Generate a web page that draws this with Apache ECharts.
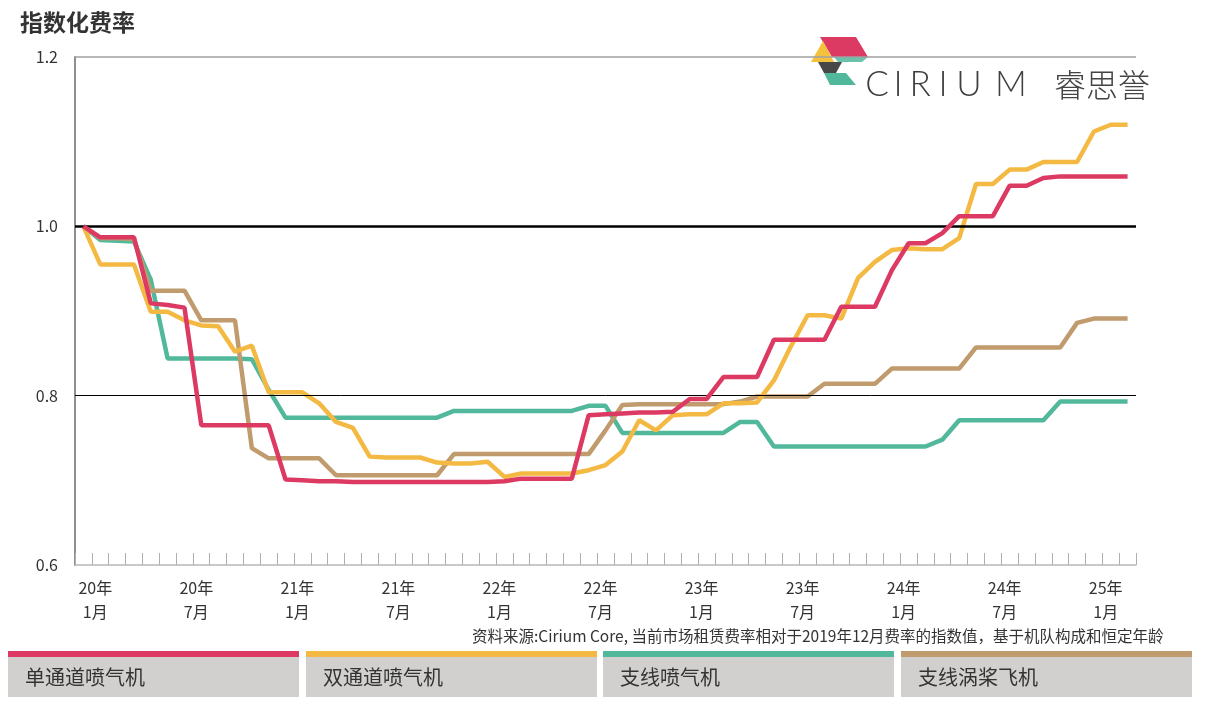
<!DOCTYPE html>
<html>
<head>
<meta charset="utf-8">
<script src="https://cdn.jsdelivr.net/npm/echarts@6/dist/echarts.min.js"></script>
<style>
  html, body { margin: 0; padding: 0; background: #fff; }
  #chart { width: 1230px; height: 712px; }
</style>
</head>
<body>
<div id="chart"></div>
<script>
// months Dec 2019 .. Feb 2025
var months = [];
for (var y = 2019, m = 12; y * 12 + m <= 2025 * 12 + 2; m++) {
  if (m > 12) { m = 1; y++; }
  months.push(y + '-' + (m < 10 ? '0' + m : m));
}

var yTicks = [0.6, 0.8, 1.0, 1.2];

// 单通道喷气机
var singleAisle = [1.000,0.987,0.987,0.987,0.909,0.907,0.904,0.765,0.765,0.765,0.765,0.765,0.701,0.700,0.699,0.699,0.698,0.698,0.698,0.698,0.698,0.698,0.698,0.698,0.698,0.699,0.702,0.702,0.702,0.702,0.777,0.778,0.779,0.780,0.780,0.781,0.796,0.796,0.822,0.822,0.822,0.866,0.866,0.866,0.866,0.905,0.905,0.905,0.948,0.980,0.980,0.992,1.012,1.012,1.012,1.048,1.048,1.057,1.059,1.059,1.059,1.059,1.059];
// 双通道喷气机
var wideBody = [1.000,0.955,0.955,0.955,0.899,0.899,0.889,0.883,0.882,0.852,0.859,0.804,0.804,0.804,0.791,0.769,0.762,0.728,0.727,0.727,0.727,0.721,0.720,0.720,0.722,0.704,0.708,0.708,0.708,0.708,0.712,0.718,0.734,0.771,0.759,0.777,0.778,0.778,0.791,0.791,0.792,0.818,0.858,0.895,0.895,0.891,0.939,0.958,0.972,0.974,0.973,0.973,0.986,1.050,1.050,1.067,1.067,1.076,1.076,1.076,1.112,1.120,1.120];
// 支线喷气机
var regionalJet = [1.000,0.984,0.983,0.982,0.937,0.844,0.844,0.844,0.844,0.844,0.843,0.807,0.774,0.774,0.774,0.774,0.774,0.774,0.774,0.774,0.774,0.774,0.782,0.782,0.782,0.782,0.782,0.782,0.782,0.782,0.788,0.788,0.756,0.756,0.756,0.756,0.756,0.756,0.756,0.769,0.769,0.740,0.740,0.740,0.740,0.740,0.740,0.740,0.740,0.740,0.740,0.748,0.771,0.771,0.771,0.771,0.771,0.771,0.793,0.793,0.793,0.793,0.793];
// 支线涡桨飞机
var turboprop = [1.000,0.986,0.986,0.985,0.924,0.924,0.924,0.889,0.889,0.889,0.738,0.726,0.726,0.726,0.726,0.706,0.706,0.706,0.706,0.706,0.706,0.706,0.731,0.731,0.731,0.731,0.731,0.731,0.731,0.731,0.731,0.759,0.789,0.790,0.790,0.790,0.790,0.790,0.790,0.793,0.799,0.799,0.799,0.799,0.814,0.814,0.814,0.814,0.832,0.832,0.832,0.832,0.832,0.857,0.857,0.857,0.857,0.857,0.857,0.886,0.891,0.891,0.891];

var seriesNames = ['单通道喷气机', '双通道喷气机', '支线喷气机', '支线涡桨飞机'];
var seriesColors = ['#dc3a62', '#f4b942', '#52b89c', '#c09b6d'];

var FONT = '"Noto Sans CJK SC", "Noto Sans", sans-serif';
var chart = echarts.init(document.getElementById('chart'));

// legend boxes at the bottom
var legendX = [8, 306, 603, 901];
var graphics = [];
seriesNames.forEach(function (name, i) {
  graphics.push({ type: 'rect', shape: { x: legendX[i], y: 657, width: 291, height: 40 }, style: { fill: '#d2d0cf' }, silent: true });
  graphics.push({ type: 'rect', shape: { x: legendX[i], y: 651, width: 291, height: 6 }, style: { fill: seriesColors[i] }, silent: true });
  graphics.push({ type: 'text', x: legendX[i] + 17, y: 677, style: { text: name, fill: '#333', fontSize: 20, fontFamily: FONT, verticalAlign: 'middle', textVerticalAlign: 'middle' }, silent: true });
});

// title
graphics.push({ type: 'text', x: 20, y: 22, style: { text: '指数化费率', fill: '#333', fontSize: 23, fontWeight: 'bold', fontFamily: FONT, verticalAlign: 'middle', textVerticalAlign: 'middle' } });

// source note
graphics.push({ type: 'text', x: 472, y: 636, style: { text: '资料来源:Cirium Core, 当前市场租赁费率相对于2019年12月费率的指数值，基于机队构成和恒定年龄', fill: '#333', fontSize: 15.5, fontFamily: FONT, verticalAlign: 'middle', textVerticalAlign: 'middle' } });

// logo mark
graphics.push({ type: 'polygon', shape: { points: [[820, 37], [856, 37], [868, 57], [832, 57]] }, style: { fill: '#dc3a62' } });
graphics.push({ type: 'polygon', shape: { points: [[811, 62], [823, 41], [834, 62]] }, style: { fill: '#f4c13c' } });
graphics.push({ type: 'polygon', shape: { points: [[818, 62], [842, 62], [836, 73], [824, 73]] }, style: { fill: '#474747' } });
graphics.push({ type: 'polygon', shape: { points: [[824, 73], [846, 73], [856, 85], [830, 85]] }, style: { fill: '#52b89c' } });
graphics.push({ type: 'polygon', shape: { points: [[834, 57], [868, 57], [862, 62], [838, 62]] }, style: { fill: '#52b89c', opacity: 0.85 } });

var logoLetters = ['C', 'I', 'R', 'I', 'U', 'M'];
var logoX = [877, 898, 920, 943, 969, 1011];
logoLetters.forEach(function (ch, i) {
  graphics.push({ type: 'text', x: logoX[i], y: 85, style: { text: ch, fill: '#3f3f3f', fontSize: 35, fontWeight: 300, fontFamily: 'Lato, "Open Sans", sans-serif', align: 'center', textAlign: 'center', verticalAlign: 'middle', textVerticalAlign: 'middle' } });
});
graphics.push({ type: 'text', x: 1102, y: 85, style: { text: '睿思誉', fill: '#444', fontSize: 32, fontWeight: 300, fontFamily: FONT, align: 'center', textAlign: 'center', verticalAlign: 'middle', textVerticalAlign: 'middle' } });

function lineSeries(name, data, color, z) {
  return {
    name: name,
    type: 'line',
    data: data,
    showSymbol: false,
    symbol: 'none',
    z: z,
    lineStyle: { color: color, width: 4.5 },
    itemStyle: { color: color },
    animation: false
  };
}

var series = [
  lineSeries(seriesNames[2], regionalJet, seriesColors[2], 2),
  lineSeries(seriesNames[3], turboprop, seriesColors[3], 3),
  lineSeries(seriesNames[1], wideBody, seriesColors[1], 4),
  lineSeries(seriesNames[0], singleAisle, seriesColors[0], 5)
];
series[0].markLine = {
  silent: true,
  symbol: 'none',
  label: { show: false },
  animation: false,
  data: [
    { yAxis: 1.2, lineStyle: { color: '#a0a0a0', width: 1.5, type: 'solid' } },
    { yAxis: 1.0, lineStyle: { color: '#000', width: 2.5, type: 'solid' } },
    { yAxis: 0.8, lineStyle: { color: '#000', width: 1, type: 'solid' } }
  ]
};

chart.setOption({
  backgroundColor: '#fff',
  animation: false,
  textStyle: { fontFamily: FONT },
  grid: { left: 75, right: 94, top: 57, bottom: 147, containLabel: false, outerBoundsMode: 'none' },
  xAxis: {
    type: 'category',
    data: months,
    boundaryGap: true,
    axisLine: { show: true, lineStyle: { color: '#b8b8b8', width: 1.5 } },
    axisTick: { show: true, inside: true, length: 12, interval: 0, lineStyle: { color: '#b0b0b0', width: 1 } },
    splitLine: { show: false },
    axisLabel: {
      interval: function (idx, val) {
        var mm = val.slice(5);
        return mm === '01' || mm === '07';
      },
      formatter: function (val) {
        return val.slice(2, 4) + '年\n' + parseInt(val.slice(5), 10) + '月';
      },
      color: '#333',
      fontSize: 16,
      lineHeight: 24,
      margin: 11,
      padding: [0, 10, 0, 0],
      fontFamily: FONT
    }
  },
  yAxis: {
    type: 'value',
    min: yTicks[0],
    max: yTicks[yTicks.length - 1],
    interval: 0.2,
    axisLine: { show: true, lineStyle: { color: '#8f8f8f', width: 2 } },
    axisTick: { show: false },
    splitLine: { show: false },
    axisLabel: {
      formatter: function (v) { return v.toFixed(1); },
      color: '#333',
      fontSize: 16,
      margin: 17,
      fontFamily: FONT
    }
  },
  series: series,
  graphic: graphics
});
</script>
</body>
</html>
